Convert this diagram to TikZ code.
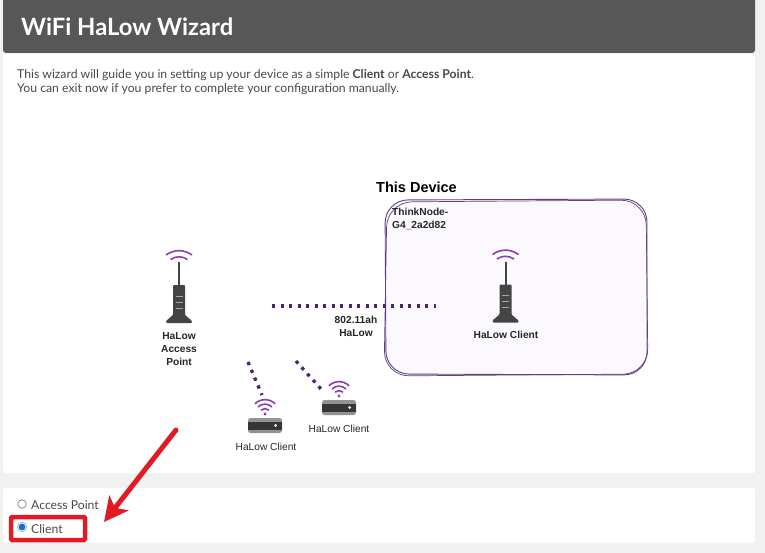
\documentclass[tikz,border=0pt]{standalone}
\usepackage{fontspec}
\setmainfont{Lato}
\newfontfamily\labelfont{Liberation Sans}
\usetikzlibrary{arrows.meta}
\definecolor{pagegray}{HTML}{F1F1F1}
\definecolor{headgray}{HTML}{575757}
\definecolor{bodytext}{HTML}{484848}
\definecolor{wifipurple}{HTML}{8B3FA8}
\definecolor{linkpurple}{HTML}{4A2470}
\definecolor{boxpurple}{HTML}{5F3F80}
\definecolor{boxfill}{HTML}{FCF9FE}
\definecolor{markred}{HTML}{E01B24}
\definecolor{icondark}{HTML}{444444}
\definecolor{radioblue}{HTML}{1B6FC2}
\tikzset{
  panel/.style={fill=white,rounded corners=2pt},
  uitext/.style={anchor=west,inner sep=0pt,text=bodytext,font=\fontsize{12.2}{14}\selectfont},
  devlabel/.style={align=center,inner sep=0pt,text=black!85,font=\labelfont\fontsize{10.2}{13}\selectfont},
  devlabelb/.style={devlabel,font=\labelfont\bfseries\fontsize{10.2}{13}\selectfont},
  link/.style={draw=linkpurple,line width=3.3pt,dash pattern=on 3.3pt off 5.2pt},
  wave/.style={draw=wifipurple,line width=1.6pt},
  tower/.pic={
    \draw[wave] (-13,-68) to[bend left=35] (13,-68);
    \draw[wave] (-8.5,-63.5) to[bend left=33] (8.5,-63.5);
    \draw[icondark,line width=2pt] (0,-61) -- (0,-36);
    \fill[icondark,rounded corners=1pt] (-6,-38) -- (6,-38) -- (6,-8) -- (13,-2) -- (13,0) -- (-13,0) -- (-13,-2) -- (-6,-8) -- cycle;
    \foreach \y in {-27,-21,-15}
      \draw[gray!70,line width=0.8pt] (-3.5,\y) -- (3.5,\y);
  },
  settop/.pic={
    \fill[gray!85,rounded corners=2.5pt] (-17,-7.5) rectangle (17,7.5);
    \fill[icondark!80!black] (-17,-4) rectangle (17,4.5);
    \fill[white] (10.5,0) circle (1.5);
    \fill[wifipurple] (0,-11.5) circle (1.6);
    \foreach \r in {5.5,10,14.5}
      \draw[wave] ({-0.7*\r},{-11.5-0.7*\r}) to[bend left=45] ({0.7*\r},{-11.5-0.7*\r});
  },
}
\begin{document}
\begin{tikzpicture}[x=1pt,y=-1pt]
\useasboundingbox (0,0) rectangle (765,553);
\fill[pagegray] (0,0) rectangle (765,553);

% page panels
\fill[panel] (3,54) rectangle (755,473);
\fill[panel] (3,488) rectangle (755,543);
\fill[headgray,rounded corners=3pt] (3,-5) rectangle (755,53);
\node[anchor=west,inner sep=0pt,text=white,font=\bfseries\fontsize{23.8}{28}\selectfont] (title) at (21,27) {WiFi HaLow Wizard};
\node[uitext] (introa) at (17,75.5) {This wizard will guide you in setting up your device as a simple \textbf{Client} or \textbf{Access Point}.};
\node[uitext] (introb) at (17,89.5) {You can exit now if you prefer to complete your configuration manually.};

% this device box
\draw[boxpurple,fill=boxfill,line width=0.9pt,rounded corners=23pt] (385,200) -- (647,199) -- (647,375) -- (386,374) -- cycle;
\draw[boxpurple,line width=0.7pt,rounded corners=25pt] (387,202) -- (646,200) -- (648,374) -- (384,376) -- cycle;
\node[anchor=west,inner sep=0pt,text=black,font=\labelfont\bfseries\fontsize{14.5}{16}\selectfont] (thisdev) at (376,187) {This Device};
\node[devlabelb,anchor=north west,align=left] (devname) at (392,207.5) {ThinkNode-\\G4\_2a2d82};

% devices
\pic at (179,323) {tower};
\pic at (505.5,322.5) {tower};
\pic at (265,425.5) {settop};
\pic at (339,407.5) {settop};
\node[devlabelb] (aplabel) at (179,349.5) {HaLow\\Access\\Point};
\node[devlabelb] (cla) at (506,335) {HaLow Client};
\node[devlabel] (clb) at (266,447) {HaLow Client};
\node[devlabel] (clc) at (339,428.5) {HaLow Client};
\node[devlabelb] (linklabel) at (356,326) {802.11ah\\HaLow};

% radio links
\coordinate (ap) at (272,306);
\coordinate (me) at (436,306);
\coordinate (sa) at (248,362);
\coordinate (sb) at (262,395);
\coordinate (ta) at (296,361);
\coordinate (tb) at (321,389);
\draw[link] (ap) -- (me);
\draw[link] (sa) -- (sb);
\draw[link] (ta) -- (tb);

% radio buttons
\node[circle,draw=gray,fill=white,line width=0.7pt,minimum size=8.5pt,inner sep=0pt] (radioa) at (22,504) {};
\node[circle,draw=radioblue!50!white,fill=white,line width=0.7pt,minimum size=9.5pt,inner sep=0pt] (radiob) at (22,527) {};
\fill[radioblue] (radiob.center) circle (3.4);
\node[uitext] (opta) at (31,505) {Access Point};
\node[uitext] (optb) at (31,529) {Client};

% red marks
\node[draw=markred,line width=4.5pt,rounded corners=1pt,inner sep=0pt,minimum width=74pt,minimum height=23pt] (mark) at (48,528.5) {};
\coordinate (tail) at (176,430);
\coordinate (head) at (104,522);
\draw[markred,line width=5pt,line cap=round,-{Stealth[length=24pt,width=24pt,inset=6pt]}] (tail) -- (head);
\end{tikzpicture}
\end{document}
